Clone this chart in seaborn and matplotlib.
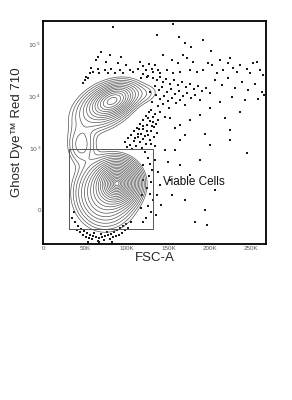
import numpy as np
import pandas as pd
import matplotlib
matplotlib.use("Agg")
import matplotlib.pyplot as plt
import seaborn as sns

# ---------------- data ----------------
x_ticks = [0, 50000, 100000, 150000, 200000, 250000]
x_tick_labels = ["0", "50K", "100K", "150K", "200K", "250K"]
y_ticks = [0, 1000, 10000, 100000]
y_tick_labels = ["0", "$10^3$", "$10^4$", "$10^5$"]

x_label = "FSC-A"
y_label = "Ghost Dye™ Red 710"
gate_label = "Viable Cells"

# gate (FSC-A range, Ghost Dye range)
gate_x = [30000, 131000]
gate_y = [-120, 960]

# population model
pop_names = ["live core", "live broad", "dead core", "dead broad", "bridge", "dead right"]
pop_x = [89000, 74000, 83000, 72000, 45000, 118000]      # FSC-A centre
pop_y = [193, 105, 8300, 6400, 1150, 11000]             # Ghost Dye centre
pop_sx = [12000, 18000, 13000, 21000, 10000, 14000]     # FSC-A spread
pop_st = [0.45, 0.75, 0.35, 0.62, 0.50, 0.30]           # spread on the biexponential axis
pop_rho = [0.0, 0.0, 0.4, 0.4, 0.0, 0.2]
pop_amp = [1.0, 0.25, 0.45, 0.12, 0.06, 0.03]

# outlier events (FSC-A, Ghost Dye)
dots_x_k = [
    83, 155, 136, 163, 192, 170, 177, 201, 143, 167, 172, 224, 154, 212, 257, 65, 69, 80, 93,
    161, 180, 198, 202, 222, 228, 236, 245, 252, 260, 248, 233, 216, 208, 192, 184, 176, 164, 155, 148, 140, 131, 124,
    131, 136, 140, 143, 147, 152, 157, 161, 166, 171, 176, 181, 186, 190, 195, 200,
    134, 139, 142, 148, 153, 158, 163, 167, 172, 177, 182, 188,
    135, 140, 145, 149, 154, 159, 164, 170, 130, 137, 143, 151, 128, 129, 134, 140, 146, 125, 131, 137,
    206, 214, 222, 230, 239, 246, 254, 263, 242, 227, 212, 200, 236, 218, 188, 176, 164, 258, 264, 265,
    152, 158, 170, 194, 224,
    98, 101, 105, 108, 112, 116, 119, 123, 127, 104, 108, 113, 117, 120, 124, 128, 131, 111, 116, 120,
    125, 129, 133, 100, 106, 118, 123, 128, 133, 136, 135, 130, 113, 110, 114, 119, 124, 122, 129, 134,
    122, 125, 128, 130, 127, 129, 124, 128, 131, 125, 129, 123, 134, 137, 140, 136, 141, 135, 119, 120,
    118, 117, 120, 146, 149, 152, 154, 158, 164, 170, 176, 188, 194, 182, 206, 164, 200, 196, 245, 224,
    37, 41, 45, 48, 52, 55, 59, 63, 66, 70, 74, 77, 81, 84, 88, 92, 95, 99, 43, 51, 58, 65, 72, 80, 87,
    94, 40, 47, 54, 61, 69, 76, 83, 90, 98, 101, 105, 34, 36, 67, 53, 82,
    63, 75, 89, 99, 57, 65, 74, 81, 92, 104, 55, 49, 51, 59, 67, 77, 86, 95, 107, 113, 47, 53,
    116, 119, 123, 127, 130, 120, 125, 117, 134, 137,
]
dots_y = [
    215000, 250000, 153000, 140000, 123000, 105000, 90000, 75000, 63000, 63000, 55000, 55000, 50000, 50000, 46000,
    57000, 72000, 63000, 57000,
    44000, 46000, 44000, 40000, 44000, 36000, 40000, 34000, 44000, 32000, 28000, 29000, 32000, 28000, 32000, 29000,
    32000, 29000, 28000, 32000, 28000, 29000, 24000,
    23000, 20700, 24000, 19000, 22000, 17300, 20700, 16600, 19000, 15300, 17300, 13800, 16000, 12600, 14500, 11600,
    16000, 13200, 15300, 12100, 13800, 11100, 12600, 10100, 11600, 9200, 10600, 8500,
    10600, 8900, 10100, 8100, 9200, 7400, 8500, 6800, 7800, 6500, 7100, 5900, 12100, 5400, 4500, 4950, 3950,
    3800, 3200, 3500,
    20700, 16600, 23000, 14500, 19000, 13200, 17300, 12100, 8500, 9600, 7800, 5900, 4950, 3800, 4350, 3500, 2800,
    8900, 26000, 10600,
    3800, 2450, 1780, 1900, 2200,
    1310, 1550, 1780, 2100, 2450, 2900, 3500, 4150, 4950, 1150, 1370, 1630, 1900, 2300, 2800, 3300, 3950, 1100,
    1310, 1500,
    1780, 2100, 2550, 1050, 960, 1000, 1200, 1430, 1630, 2000, 2900, 2700, 1900, 1550, 2300, 2700, 2100, 1700,
    1200, 1100,
    840, 640, 490, 367, 276, 205, 148, 99, 58, 23, -11, -46, 582, 335, 173, 92, 28, -28, 464, 226,
    92, 11, -70, 920, 535, 226, 92, 920, 464, 58, 290, 582, 0, -70, 129, 1430, 1150, -92, 800, 1430,
    -70, -99, -122, -138, -156, -173, -182, -191, -200, -191, -182, -173, -165, -147, -129, -114, -99, -84,
    -147, -191, -213, -236, -226, -213, -182,
    -156, -129, -173, -200, -156, -165, -147, -191, -173, -129, -114, -70, -46, -11, -246, -246, -246,
    50000, 46000, 44000, 40000, 36000, 34000, 32000, 34000, 32000, 32000, 28000, 20700, 24000, 29000, 28000,
    28000, 28000, 28000, 29000, 34000, 18000, 23000,
    46000, 38000, 32000, 42000, 34000, 27000, 25000, 23000, 40000, 32000,
]

# ---------------- scale ----------------
COF = 128.0


def fwd(y):
    return np.arcsinh(np.asarray(y, dtype=float) / COF)


def inv(t):
    return COF * np.sinh(np.asarray(t, dtype=float))


sns.set_theme(style="white")
plt.rcParams["font.family"] = ["Liberation Sans", "DejaVu Sans"]

fig = plt.figure(figsize=(2.92, 4.0), dpi=100)
ax = fig.add_axes([43 / 292, 1 - 244 / 400, 223 / 292, 223 / 400])
ax.set_yscale("function", functions=(fwd, inv))

# density on a grid (x linear, y on biexponential axis)
gx = np.linspace(-2000, 268000, 500)
gt = np.linspace(-1.6, 8.5, 500)
GX, GT = np.meshgrid(gx, gt)
Z = np.zeros_like(GX)
for cx, cy, sx, st, rho, a in zip(pop_x, pop_y, pop_sx, pop_st, pop_rho, pop_amp):
    u = (GX - cx) / sx
    v = (GT - fwd(cy)) / st
    q = (u * u - 2 * rho * u * v + v * v) / (1 - rho * rho)
    Z += a * np.exp(-0.5 * q)
zmax = Z.max()
r = np.linspace(2.9, 0.2, 21)
levels = zmax * np.exp(-0.5 * r ** 2)
ax.contour(GX, inv(GT), Z, levels=levels, colors="#555555", linewidths=0.5)

df = pd.DataFrame({"FSC-A": np.array(dots_x_k) * 1000.0, "Ghost Dye": dots_y})
sns.scatterplot(data=df, x="FSC-A", y="Ghost Dye", ax=ax, s=0.8, color="#1a1a1a",
                linewidth=0, marker="s", legend=False)

# gate
ax.plot([gate_x[0], gate_x[1], gate_x[1], gate_x[0], gate_x[0]],
        [gate_y[0], gate_y[0], gate_y[1], gate_y[1], gate_y[0]],
        color="#555555", lw=0.7)
ax.text(gate_x[1] + 12000, 200, gate_label, fontsize=8.5, va="center", ha="left", color="#111111")

ax.set_xlim(-1000, 267500)
ax.set_ylim(-275, 285000)
ax.set_xticks(x_ticks)
ax.set_xticklabels(x_tick_labels)
ax.set_yticks(y_ticks)
ax.set_yticklabels(y_tick_labels)
ax.tick_params(axis="both", length=0, labelsize=4.5, labelcolor="#555555", pad=1.5)
ax.minorticks_off()
ax.set_xlabel(x_label, fontsize=9.5, labelpad=1)
ax.set_ylabel(y_label, fontsize=9.5)
ax.yaxis.set_label_coords(-0.09, 0.5)
for s in ax.spines.values():
    s.set_visible(True)
    s.set_color("black")
    s.set_linewidth(1.3)

fig.savefig("out.png", dpi=100)
